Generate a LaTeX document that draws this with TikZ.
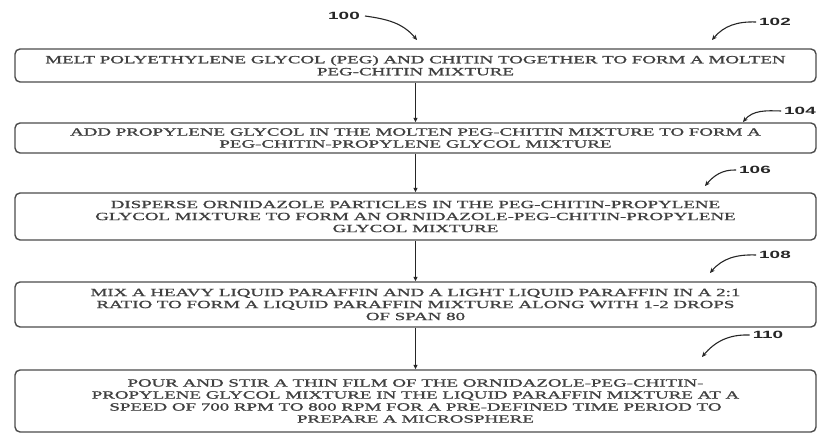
\documentclass[tikz,border=0pt]{standalone}
\usepackage{fontspec}
\usetikzlibrary{arrows.meta}
\newfontfamily\boxfont[FakeStretch=1.72, FakeBold=1.3]{Liberation Serif}
\newfontfamily\reffont[FakeStretch=1.8]{Liberation Sans}
\begin{document}
\begin{tikzpicture}[x=1pt, y=1pt,
  stepbox/.style={draw=black!70, line width=1.4pt, rounded corners=5pt,
    minimum width=801pt, inner sep=0pt, align=center, text=black!75,
    font=\boxfont\fontsize{11}{12}\selectfont},
  reflabel/.style={font=\reffont\bfseries\fontsize{10.5}{12}\selectfont, text=black!85, inner sep=1pt},
  refarrow/.style={line width=1.1pt, black!85, -{Stealth[length=5pt, width=4.5pt]}},
  flow/.style={line width=1.3pt, black!85, -{Triangle[length=4.5pt, width=4pt]}}]
  \useasboundingbox (0,0) rectangle (820,434);
  % process steps
  \node[stepbox, minimum height=33pt] (s102) at (415.5,368.5)
    {MELT POLYETHYLENE GLYCOL (PEG) AND CHITIN TOGETHER TO FORM A MOLTEN\\ PEG-CHITIN MIXTURE};
  \node[stepbox, minimum height=30pt] (s104) at (415.5,296)
    {ADD PROPYLENE GLYCOL IN THE MOLTEN PEG-CHITIN MIXTURE TO FORM A\\ PEG-CHITIN-PROPYLENE GLYCOL MIXTURE};
  \node[stepbox, minimum height=47pt] (s106) at (415.5,217.5)
    {DISPERSE ORNIDAZOLE PARTICLES IN THE PEG-CHITIN-PROPYLENE\\ GLYCOL MIXTURE TO FORM AN ORNIDAZOLE-PEG-CHITIN-PROPYLENE\\ GLYCOL MIXTURE};
  \node[stepbox, minimum height=45pt] (s108) at (415.5,129.5)
    {MIX A HEAVY LIQUID PARAFFIN AND A LIGHT LIQUID PARAFFIN IN A 2:1\\ RATIO TO FORM A LIQUID PARAFFIN MIXTURE ALONG WITH 1-2 DROPS\\ OF SPAN 80};
  \node[stepbox, minimum height=62pt] (s110) at (415.5,33)
    {POUR AND STIR A THIN FILM OF THE ORNIDAZOLE-PEG-CHITIN-\\ PROPYLENE GLYCOL MIXTURE IN THE LIQUID PARAFFIN MIXTURE AT A\\ SPEED OF 700 RPM TO 800 RPM FOR A PRE-DEFINED TIME PERIOD TO\\ PREPARE A MICROSPHERE};
  \foreach \a/\b in {s102/s104, s104/s106, s106/s108, s108/s110}
    \draw[flow] (\a.south) -- (\b.north);
  % reference numerals
  \node[reflabel] (l100) at (344,418) {100};
  \node[reflabel] (l102) at (775,412) {102};
  \node[reflabel] (l104) at (800,323) {104};
  \node[reflabel] (l106) at (755,264) {106};
  \node[reflabel] (l108) at (775,179) {108};
  \node[reflabel] (l110) at (768,99) {110};
  \coordinate (t100) at (417,394);
  \coordinate (t102) at (712,394);
  \coordinate (t104) at (743,312);
  \coordinate (t106) at (705,248);
  \coordinate (t108) at (710,161);
  \coordinate (t110) at (702,77);
  \draw[refarrow] ([xshift=4pt]l100.east) to[out=-8, in=130] (t100);
  \foreach \n in {102,104,106,108,110}
    \draw[refarrow] ([xshift=-2pt]l\n.west) to[out=178, in=50] (t\n);
\end{tikzpicture}
\end{document}
